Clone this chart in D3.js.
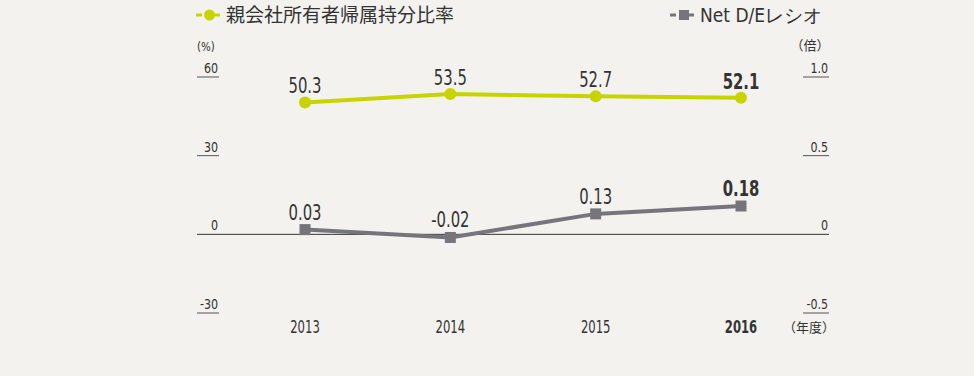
<!DOCTYPE html>
<html>
<head>
<meta charset="utf-8">
<script src="https://cdn.jsdelivr.net/npm/d3@7"></script>
<style>
  body { margin: 0; background: #f3f2ee; }
  text { font-family: "DejaVu Sans Condensed", "DejaVu Sans", sans-serif; fill: #333; }
  .jp { font-family: "Noto Sans CJK JP", sans-serif; }
</style>
</head>
<body>
<div id="chart"></div>
<script>
// data
var years = ["2013", "2014", "2015", "2016"];
var equityRatio = [50.3, 53.5, 52.7, 52.1];
var equityLabels = ["50.3", "53.5", "52.7", "52.1"];
var netDE = [0.03, -0.02, 0.13, 0.18];
var netDELabels = ["0.03", "-0.02", "0.13", "0.18"];
var leftTicks = [60, 30, 0, -30];
var rightTicks = [1.0, 0.5, 0, -0.5];
var rightTickLabels = ["1.0", "0.5", "0", "-0.5"];

const width = 974, height = 376;
const green = "#c8d400", grey = "#75757b";

const svg = d3.select("#chart").append("svg")
    .attr("width", width)
    .attr("height", height);

svg.append("rect").attr("width", width).attr("height", height).attr("fill", "#f3f2ee");

// narrow text helper (the original uses a condensed face)
function narrowText(g, px, py, str, size, sx, anchor, bold) {
    return g.append("text")
        .attr("transform", "translate(" + px + "," + py + ") scale(" + sx + ",1)")
        .attr("text-anchor", anchor)
        .attr("font-size", size)
        .attr("font-weight", bold ? "bold" : "normal")
        .text(str);
}

// scales
var x = d3.scalePoint()
    .domain(years)
    .range([305, 741]);

var yLeft = d3.scaleLinear()
    .domain([-30, 60])
    .range([313, 77]);

var yRight = d3.scaleLinear()
    .domain([-0.5, 1.0])
    .range([313, 77]);

// left axis: small underlined labels
var leftAxis = svg.append("g");
leftTicks.forEach(function (t) {
    if (t !== 0) {
        leftAxis.append("line")
            .attr("x1", 197).attr("x2", 219)
            .attr("y1", yLeft(t)).attr("y2", yLeft(t))
            .attr("stroke", "#555").attr("stroke-width", 1);
    }
    narrowText(leftAxis, 218, yLeft(t) - 4, t, 14, 0.88, "end", false);
});
narrowText(leftAxis, 197, 51, "(%)", 13, 0.88, "start", false);

// right axis
var rightAxis = svg.append("g");
rightTicks.forEach(function (t, i) {
    if (t !== 0) {
        rightAxis.append("line")
            .attr("x1", 803).attr("x2", 829)
            .attr("y1", yRight(t)).attr("y2", yRight(t))
            .attr("stroke", "#555").attr("stroke-width", 1);
    }
    narrowText(rightAxis, 828, yRight(t) - 4, rightTickLabels[i], 14, 0.88, "end", false);
});
rightAxis.append("text")
    .attr("class", "jp")
    .attr("x", 810).attr("y", 50)
    .attr("text-anchor", "middle")
    .attr("font-size", 13)
    .text("（倍）");

// zero line
svg.append("line")
    .attr("x1", 197).attr("x2", 829)
    .attr("y1", yLeft(0)).attr("y2", yLeft(0))
    .attr("stroke", "#333").attr("stroke-width", 1);

// x labels
var xAxis = svg.append("g");
years.forEach(function (d, i) {
    narrowText(xAxis, x(d), 333, d, 17, 0.76, "middle", i === years.length - 1);
});

svg.append("text")
    .attr("class", "jp")
    .attr("x", 809).attr("y", 332)
    .attr("text-anchor", "middle")
    .attr("font-size", 13)
    .text("（年度）");

// equity ratio line
svg.append("path")
    .datum(equityRatio)
    .attr("d", d3.line().x((d, i) => x(years[i])).y(d => yLeft(d)))
    .attr("fill", "none")
    .attr("stroke", green)
    .attr("stroke-width", 4);

svg.selectAll(".gdot")
    .data(equityRatio)
    .enter().append("circle")
    .attr("cx", (d, i) => x(years[i]))
    .attr("cy", d => yLeft(d))
    .attr("r", 6)
    .attr("fill", green);

var gLabels = svg.append("g");
equityRatio.forEach(function (d, i) {
    narrowText(gLabels, x(years[i]), yLeft(d) - 9, equityLabels[i], 22, 0.75, "middle", i === 3);
});

// net D/E line
svg.append("path")
    .datum(netDE)
    .attr("d", d3.line().x((d, i) => x(years[i])).y(d => yRight(d)))
    .attr("fill", "none")
    .attr("stroke", grey)
    .attr("stroke-width", 4);

svg.selectAll(".gsq")
    .data(netDE)
    .enter().append("rect")
    .attr("x", (d, i) => x(years[i]) - 5.5)
    .attr("y", d => yRight(d) - 5.5)
    .attr("width", 11).attr("height", 11)
    .attr("fill", grey);

var dLabels = svg.append("g");
netDE.forEach(function (d, i) {
    narrowText(dLabels, x(years[i]), yRight(d) - 10, netDELabels[i], 22, 0.75, "middle", i === 3);
});

// legend
var lg1 = svg.append("g");
lg1.append("line").attr("x1", 196).attr("x2", 223).attr("y1", 15).attr("y2", 15)
    .attr("stroke", green).attr("stroke-width", 3).attr("stroke-dasharray", "6,3,6,3,6");
lg1.append("circle").attr("cx", 209.5).attr("cy", 15).attr("r", 5.5).attr("fill", green);
lg1.append("text").attr("class", "jp")
    .attr("x", 226).attr("y", 22)
    .attr("font-size", 19).attr("fill", "#444")
    .text("親会社所有者帰属持分比率");

var lg2 = svg.append("g");
lg2.append("line").attr("x1", 670).attr("x2", 698).attr("y1", 15).attr("y2", 15)
    .attr("stroke", grey).attr("stroke-width", 3).attr("stroke-dasharray", "6,3,6,3,6");
lg2.append("rect").attr("x", 679).attr("y", 10).attr("width", 10).attr("height", 10).attr("fill", grey);
lg2.append("text")
    .attr("x", 700).attr("y", 22)
    .attr("font-size", 19).attr("fill", "#444")
    .attr("font-family", "'Noto Sans CJK JP', sans-serif")
    .text("Net D/Eレシオ");
</script>
</body>
</html>
